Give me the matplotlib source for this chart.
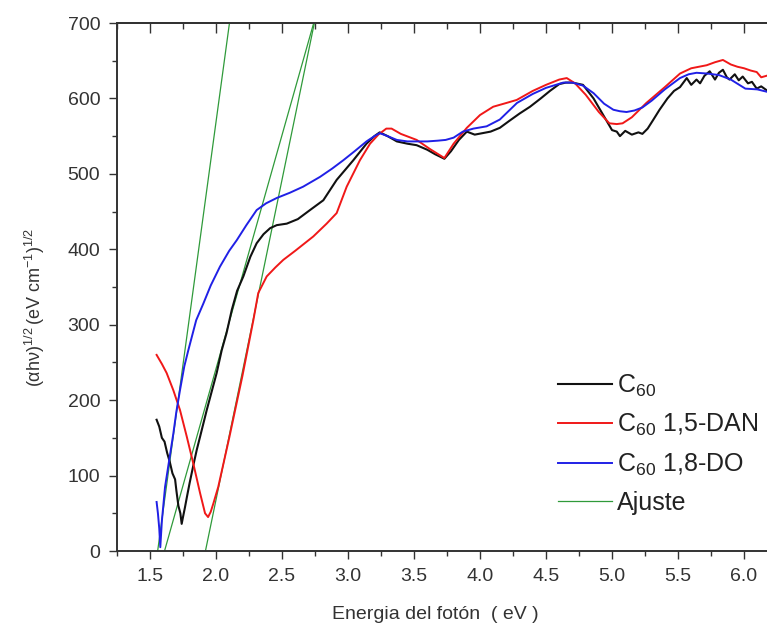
import matplotlib
matplotlib.use("Agg")
import matplotlib.pyplot as plt
from matplotlib.ticker import MultipleLocator

plt.rcParams['font.family'] = ['Liberation Sans', 'DejaVu Sans']
plt.rcParams['mathtext.fontset'] = 'custom'
plt.rcParams['mathtext.rm'] = 'Liberation Sans'
plt.rcParams['mathtext.it'] = 'Liberation Sans:italic'
plt.rcParams['mathtext.bf'] = 'Liberation Sans:bold'

# ---------------- data ----------------
c60_x = [1.55, 1.57, 1.59, 1.61, 1.63, 1.65, 1.67, 1.69, 1.70, 1.715, 1.73, 1.74, 1.75, 1.765,
         1.78, 1.80, 1.83, 1.854, 1.88, 1.93, 2.005, 2.043, 2.08, 2.12, 2.16, 2.207, 2.26, 2.308,
         2.36, 2.41, 2.46, 2.536, 2.62, 2.712, 2.813, 2.914, 3.04, 3.14, 3.20, 3.24, 3.30, 3.37,
         3.45, 3.52, 3.60, 3.66, 3.73, 3.78, 3.84, 3.90, 3.96, 4.02, 4.08, 4.15, 4.22, 4.30, 4.379,
         4.46, 4.53, 4.60, 4.65, 4.70, 4.78, 4.86, 4.94, 5.00, 5.036, 5.06, 5.10, 5.15, 5.20, 5.23,
         5.27, 5.31, 5.36, 5.42, 5.47, 5.515, 5.566, 5.60, 5.64, 5.667, 5.70, 5.74, 5.78, 5.81,
         5.84, 5.87, 5.89, 5.93, 5.96, 5.99, 6.03, 6.06, 6.096, 6.13, 6.17]
c60_y = [174, 165, 150, 145, 130, 118, 103, 95, 80, 60, 50, 36, 45, 58,
         72, 90, 115, 134, 152, 187, 236, 266, 289, 320, 345, 364, 390, 408,
         420, 428, 432, 434, 440, 452, 465, 492, 518, 540, 550, 555, 550, 543,
         540, 538, 532, 526, 520, 530, 545, 556, 552, 554, 556, 561, 570, 580, 589,
         600, 610, 619, 621, 621, 618, 600, 576, 558, 556, 550, 557, 552, 555, 553,
         560, 571, 585, 600, 610, 615, 627, 618, 625, 620, 630, 636, 625, 634,
         638, 628, 625, 632, 624, 629, 620, 622, 613, 616, 611]

dan_x = [1.55, 1.59, 1.626, 1.677, 1.727, 1.778, 1.828, 1.879, 1.917, 1.94, 1.96, 1.98, 2.017,
         2.10, 2.20, 2.283, 2.32, 2.384, 2.45, 2.51, 2.60, 2.737, 2.838, 2.914, 2.99, 3.09, 3.167,
         3.23, 3.29, 3.33, 3.40, 3.52, 3.62, 3.73, 3.80, 3.90, 4.00, 4.10, 4.20, 4.278, 4.40, 4.50,
         4.60, 4.657, 4.72, 4.80, 4.90, 4.98, 5.036, 5.08, 5.15, 5.26, 5.40, 5.515, 5.60, 5.717,
         5.78, 5.84, 5.90, 5.95, 6.00, 6.05, 6.096, 6.13, 6.17]
dan_y = [260, 248, 236, 213, 187, 152, 116, 77, 50, 45, 52, 63, 85,
         150, 232, 306, 342, 364, 376, 386, 398, 417, 434, 448, 483, 518, 540,
         552, 560, 560, 553, 545, 533, 521, 540, 561, 578, 589, 594, 598, 610, 618,
         625, 627, 620, 605, 582, 567, 566, 567, 575, 594, 615, 633, 640, 644,
         648, 651, 645, 642, 640, 637, 635, 628, 630]

do_x = [1.55, 1.56, 1.57, 1.578, 1.59, 1.614, 1.645, 1.677, 1.70, 1.727, 1.76, 1.79, 1.85,
        1.904, 1.96, 2.03, 2.10, 2.157, 2.23, 2.308, 2.38, 2.46, 2.56, 2.66, 2.788, 2.88, 2.964,
        3.05, 3.14, 3.20, 3.24, 3.30, 3.37, 3.45, 3.52, 3.60, 3.68, 3.74, 3.80, 3.87, 3.95, 4.05,
        4.15, 4.28, 4.40, 4.50, 4.63, 4.70, 4.78, 4.86, 4.94, 5.01, 5.06, 5.11, 5.17, 5.23, 5.30,
        5.40, 5.515, 5.58, 5.64, 5.72, 5.81, 5.90, 6.01, 6.10, 6.17]
do_y = [65, 50, 30, 5, 40, 85, 120, 156, 185, 213, 245, 266, 306,
        328, 352, 377, 398, 412, 432, 452, 461, 468, 475, 483, 496, 507, 518,
        530, 543, 550, 554, 550, 545, 543, 543, 543, 544, 545, 548, 556, 560, 563,
        572, 594, 606, 614, 621, 621, 617, 607, 593, 585, 583, 582, 584, 588, 597,
        612, 627, 632, 634, 633, 631, 625, 613, 612, 609]

# linear fits (Ajuste): energy at y=0 and at y=700
fit_x_start = [1.558, 1.61, 1.92]
fit_x_end = [2.102, 2.74, 2.745]
fit_y = [0, 700]

labels = [r'C$_{60}$', r'C$_{60}$ 1,5-DAN', r'C$_{60}$ 1,8-DO', 'Ajuste']

xlim = (1.25, 6.174)
ylim = (0, 700)
xtick_vals = [1.5, 2.0, 2.5, 3.0, 3.5, 4.0, 4.5, 5.0, 5.5, 6.0]
xtick_labels = ['1.5', '2.0', '2.5', '3.0', '3.5', '4.0', '4.5', '5.0', '5.5', '6.0']

# ---------------- figure ----------------
W, H = 767, 629
fig = plt.figure(figsize=(W / 100, H / 100), dpi=100)
left, right, top, bottom = 117, 767, 23, 551
ax = fig.add_axes([left / W, (H - bottom) / H, (right - left) / W, (bottom - top) / H])

c_black = '#111111'
c_red = '#f01818'
c_blue = '#2020e6'
c_green = '#2f9a3a'

l4 = None
for xs, xe in zip(fit_x_start, fit_x_end):
    l4, = ax.plot([xs, xe], fit_y, color=c_green, lw=0.9, zorder=2)
l1, = ax.plot(c60_x, c60_y, color=c_black, lw=1.5, zorder=3)
l2, = ax.plot(dan_x, dan_y, color=c_red, lw=1.4, zorder=3)
l3, = ax.plot(do_x, do_y, color=c_blue, lw=1.4, zorder=3)

ax.set_xlim(*xlim)
ax.set_ylim(*ylim)

ax.xaxis.set_minor_locator(MultipleLocator(0.25))
ax.yaxis.set_major_locator(MultipleLocator(100))
ax.yaxis.set_minor_locator(MultipleLocator(50))
ax.set_xticks(xtick_vals)
ax.set_xticklabels(xtick_labels)

tick_color = '#333333'
ax.tick_params(which='major', direction='out', length=6, width=1.0, pad=6,
               labelsize=14, labelcolor=tick_color, color=tick_color)
ax.tick_params(which='minor', direction='out', length=3.5, width=1.0, color=tick_color)
ax.tick_params(top=False, right=False)

for s in ['left', 'bottom', 'top']:
    ax.spines[s].set_linewidth(1.4)
    ax.spines[s].set_color('#333333')
ax.spines['right'].set_visible(False)

sec = ax.secondary_xaxis('top')
sec.set_xticks(xtick_vals)
sec.xaxis.set_minor_locator(MultipleLocator(0.25))
sec.tick_params(which='major', direction='in', length=7, width=1.0, labeltop=False, color=tick_color)
sec.tick_params(which='minor', direction='in', length=4, width=1.0, color=tick_color)
sec.spines['top'].set_linewidth(1.4)
sec.spines['top'].set_color('#333333')

ax.set_xlabel('Energia del fotón  ( eV )', fontsize=14, color='#333333')
ax.xaxis.set_label_coords((435 - left) / (right - left), (bottom - 606) / (bottom - top))
ax.set_ylabel(r'$\mathrm{(\alpha h\nu)^{1/2}\,(eV\ cm^{-1})^{1/2}}$', fontsize=13, color='#333333')
ax.yaxis.label.set_verticalalignment('center')
ax.yaxis.set_label_coords((35 - left) / (right - left), (bottom - 307) / (bottom - top))

leg = ax.legend([l1, l2, l3, l4], labels, loc='upper left',
                bbox_to_anchor=((558 - left) / (right - left), (bottom - 373) / (bottom - top)),
                frameon=False, fontsize=18, handlelength=2.15, handletextpad=0.2,
                labelspacing=0.52, borderpad=0, borderaxespad=0)
for t in leg.get_texts():
    t.set_color('#222222')

fig.savefig('out.png', dpi=100)
